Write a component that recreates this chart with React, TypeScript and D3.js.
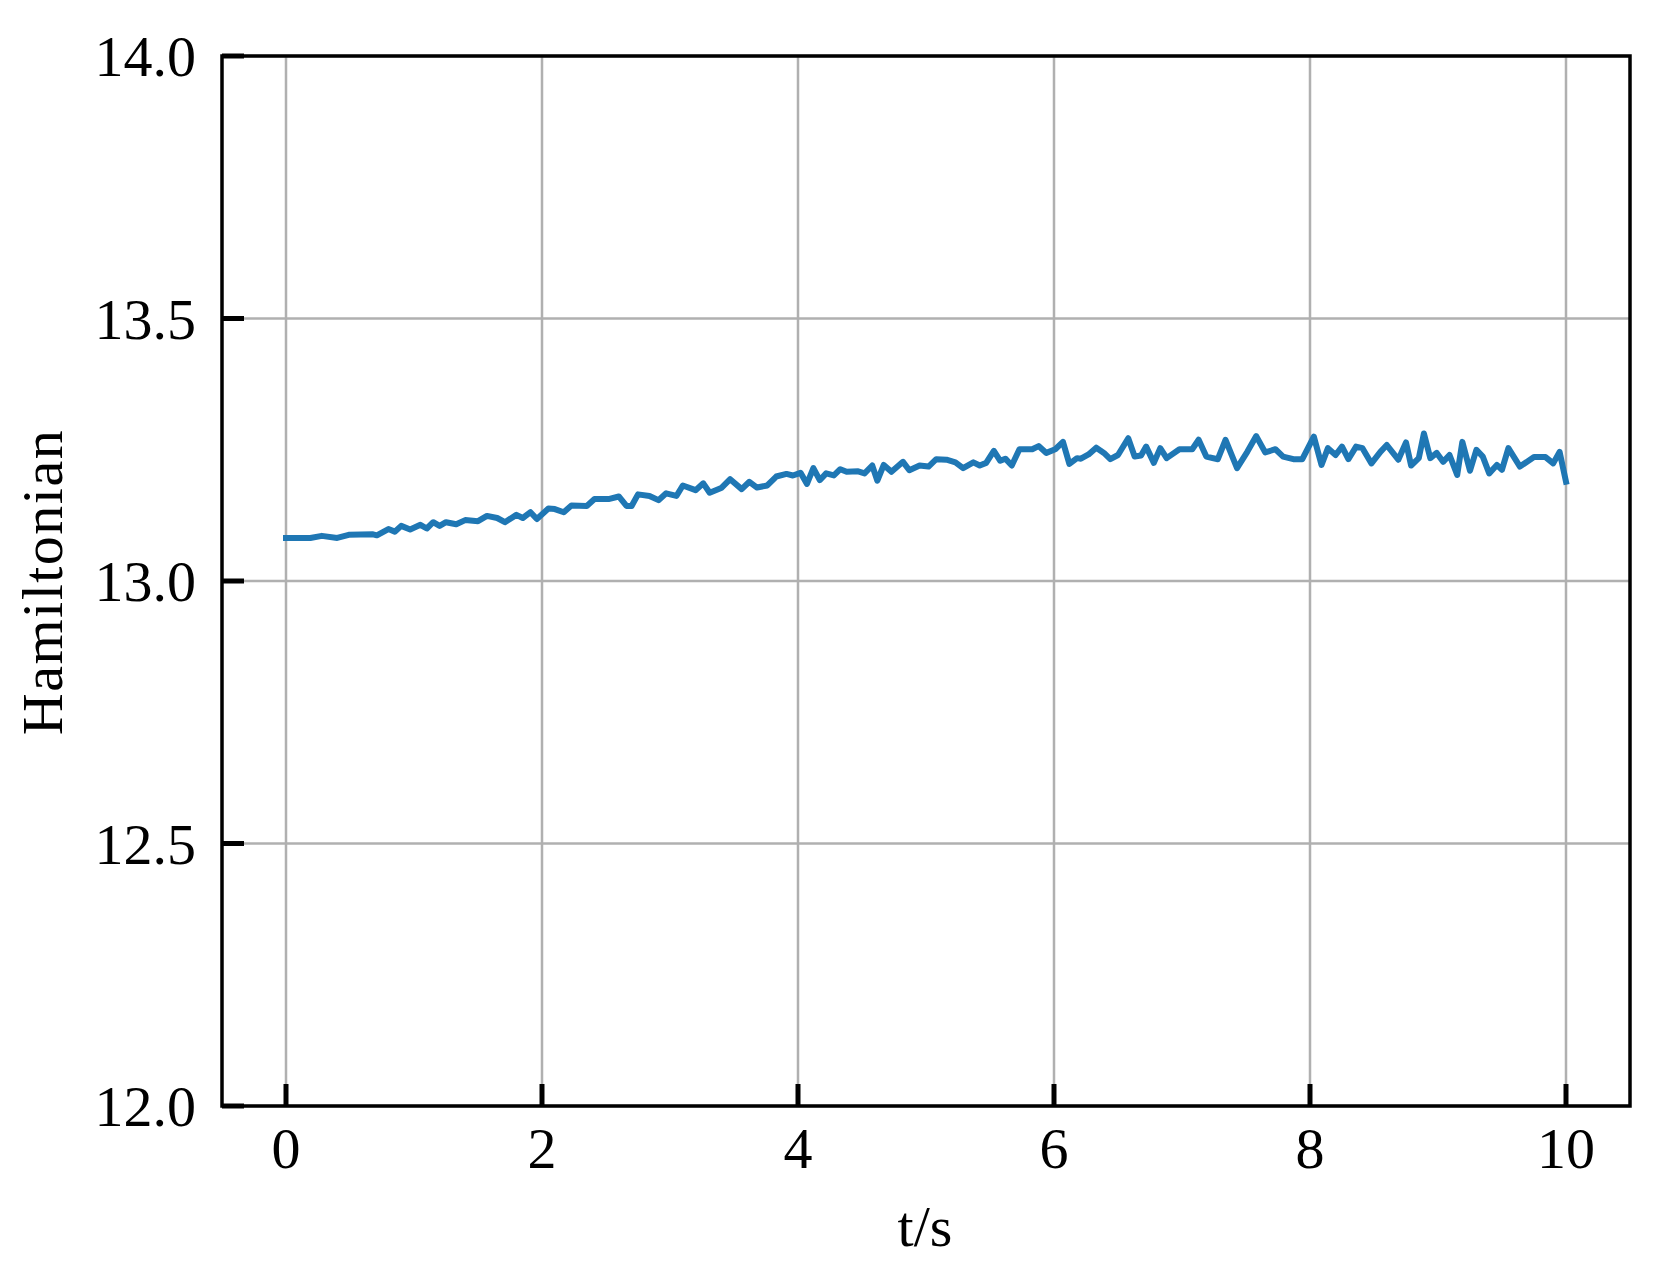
import React from "react";
import * as d3 from "d3";

const times: number[] = [
  0, 0.11, 0.19, 0.28, 0.4, 0.49, 0.68, 0.71, 0.8, 0.85, 0.9, 0.97, 1.05, 1.1, 1.15, 1.2, 1.25, 1.33, 1.4, 1.5,
  1.57, 1.65, 1.71, 1.8, 1.85, 1.91, 1.96, 2.05, 2.1, 2.17, 2.23, 2.35, 2.41, 2.52, 2.6, 2.66, 2.7, 2.75, 2.84, 2.91,
  2.97, 3.05, 3.1, 3.2, 3.26, 3.31, 3.4, 3.47, 3.56, 3.62, 3.68, 3.76, 3.83, 3.91, 3.96, 4.02, 4.07, 4.12, 4.17, 4.22,
  4.28, 4.33, 4.38, 4.47, 4.52, 4.58, 4.62, 4.67, 4.73, 4.82, 4.87, 4.95, 5.02, 5.08, 5.16, 5.23, 5.29, 5.37, 5.42, 5.47,
  5.53, 5.58, 5.62, 5.67, 5.73, 5.83, 5.88, 5.94, 6.01, 6.07, 6.12, 6.18, 6.21, 6.27, 6.33, 6.39, 6.44, 6.5, 6.58, 6.63,
  6.68, 6.72, 6.78, 6.83, 6.88, 6.98, 7.08, 7.13, 7.19, 7.28, 7.34, 7.43, 7.51, 7.58, 7.65, 7.73, 7.79, 7.87, 7.94, 8.03,
  8.09, 8.14, 8.2, 8.25, 8.3, 8.36, 8.41, 8.48, 8.55, 8.6, 8.69, 8.75, 8.79, 8.85, 8.89, 8.94, 8.99, 9.04, 9.09, 9.15,
  9.19, 9.25, 9.3, 9.35, 9.4, 9.46, 9.5, 9.55, 9.64, 9.75, 9.84, 9.9, 9.95, 10.0,
];

const hamiltonian: number[] = [
  13.082, 13.082, 13.082, 13.086, 13.082, 13.088, 13.089, 13.087, 13.099, 13.094, 13.105, 13.098, 13.107, 13.1, 13.112, 13.105, 13.112, 13.108, 13.116, 13.114,
  13.124, 13.12, 13.112, 13.126, 13.12, 13.131, 13.118, 13.138, 13.137, 13.131, 13.144, 13.143, 13.156, 13.156, 13.161, 13.143, 13.143, 13.165, 13.162, 13.154,
  13.167, 13.162, 13.182, 13.173, 13.186, 13.168, 13.177, 13.194, 13.175, 13.189, 13.178, 13.182, 13.199, 13.204, 13.201, 13.206, 13.185, 13.215, 13.192, 13.205,
  13.201, 13.213, 13.208, 13.209, 13.205, 13.22, 13.191, 13.221, 13.208, 13.227, 13.211, 13.22, 13.218, 13.232, 13.231, 13.226, 13.215, 13.226, 13.22, 13.225,
  13.248, 13.229, 13.233, 13.22, 13.251, 13.251, 13.257, 13.244, 13.251, 13.265, 13.223, 13.234, 13.233, 13.241, 13.254, 13.244, 13.232, 13.24, 13.272, 13.237,
  13.239, 13.256, 13.225, 13.253, 13.234, 13.251, 13.251, 13.269, 13.237, 13.232, 13.269, 13.215, 13.246, 13.276, 13.245, 13.251, 13.237, 13.232, 13.232, 13.275,
  13.221, 13.253, 13.24, 13.256, 13.232, 13.256, 13.253, 13.224, 13.246, 13.259, 13.231, 13.264, 13.22, 13.234, 13.281, 13.234, 13.244, 13.227, 13.24, 13.202,
  13.265, 13.21, 13.25, 13.237, 13.205, 13.221, 13.212, 13.253, 13.218, 13.236, 13.236, 13.224, 13.246, 13.189,
];

const xTicks: number[] = [0, 2, 4, 6, 8, 10];
const yTicks: number[] = [12.0, 12.5, 13.0, 13.5, 14.0];
const xLabel = "t/s";
const yLabel = "Hamiltonian";

const W = 1653;
const H = 1283;
const FONT = "'Liberation Serif', 'DejaVu Serif', serif";

export default function App() {
  const x = d3.scaleLinear().domain([-0.5, 10.5]).range([222, 1630]);
  const y = d3.scaleLinear().domain([12, 14]).range([1106, 56]);
  const pts: [number, number][] = times.map((t, i) => [t, hamiltonian[i]]);
  const line = d3
    .line<[number, number]>()
    .x((d) => x(d[0]))
    .y((d) => y(d[1]));
  const left = x(-0.5);
  const right = x(10.5);
  const top = y(14);
  const bottom = y(12);
  const tickLen = 22;

  return (
    <svg
      width={W}
      height={H}
      style={{ position: "absolute", left: 0, top: 0, background: "#fff" }}
      fontFamily={FONT}
    >
      <rect x={0} y={0} width={W} height={H} fill="#fff" />
      {xTicks.map((t) => (
        <line key={"gx" + t} x1={x(t)} x2={x(t)} y1={top} y2={bottom} stroke="#b0b0b0" strokeWidth={2.5} />
      ))}
      {yTicks.map((t) => (
        <line key={"gy" + t} x1={left} x2={right} y1={y(t)} y2={y(t)} stroke="#b0b0b0" strokeWidth={2.5} />
      ))}
      <path d={line(pts) || ""} fill="none" stroke="#1f77b4" strokeWidth={6} strokeLinejoin="round" strokeLinecap="square" />
      {xTicks.map((t) => (
        <line key={"tx" + t} x1={x(t)} x2={x(t)} y1={bottom} y2={bottom - tickLen} stroke="#000" strokeWidth={5} />
      ))}
      {yTicks.map((t) => (
        <line key={"ty" + t} x1={left} x2={left + tickLen} y1={y(t)} y2={y(t)} stroke="#000" strokeWidth={5} />
      ))}
      <rect x={left} y={top} width={right - left} height={bottom - top} fill="none" stroke="#000" strokeWidth={3.5} />
      {xTicks.map((t) => (
        <text key={"lx" + t} x={x(t)} y={1168} textAnchor="middle" fontSize={58} fill="#000">
          {String(t)}
        </text>
      ))}
      {yTicks.map((t) => (
        <text key={"ly" + t} x={196} y={y(t) + 20} textAnchor="end" fontSize={58} fill="#000">
          {t.toFixed(1)}
        </text>
      ))}
      <text x={925} y={1246} textAnchor="middle" fontSize={58} fill="#000">
        {xLabel}
      </text>
      <text
        transform={`translate(62, 582) rotate(-90)`}
        textAnchor="middle"
        fontSize={58}
        letterSpacing={1.5}
        fill="#000"
      >
        {yLabel}
      </text>
    </svg>
  );
}
